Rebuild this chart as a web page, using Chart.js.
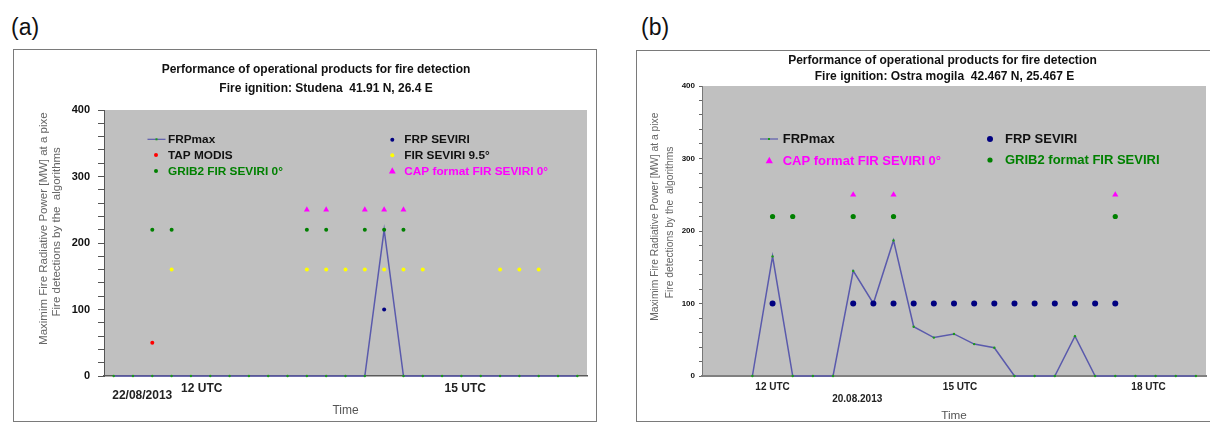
<!DOCTYPE html>
<html>
<head>
<meta charset="utf-8">
<script src="https://cdn.jsdelivr.net/npm/chart.js@4.4.0/dist/chart.umd.min.js"></script>
<style>
  body { margin: 0; width: 1210px; height: 423px; overflow: hidden; position: relative; background: #fff;
         font-family: "Liberation Sans", Arial, sans-serif; }
  .tag { position: absolute; top: 16px; font-size: 23px; line-height: 1; color: #111; }
  .frame { position: absolute; border: 1px solid #7a7a7a; box-sizing: border-box; }
  canvas { position: absolute; }
</style>
</head>
<body>
<div class="tag" style="left:11px">(a)</div>
<div class="tag" style="left:641px">(b)</div>
<div class="frame" style="left:13px;top:49px;width:584px;height:373px"></div>
<div class="frame" style="left:636px;top:50px;width:590px;height:372px"></div>
<canvas id="chartA" width="582" height="373" style="left:14px;top:50px"></canvas>
<canvas id="chartB" width="573" height="372" style="left:637px;top:51px"></canvas>

<script>
// ---- panel (a): Studena, 22/08/2013 (25 time slots) ----
const titleA = ['Performance of operational products for fire detection', 'Fire ignition: Studena  41.91 N, 26.4 E'];
const frpMaxA    = [0, 0, 0, 0, 0, 0, 0, 0, 0, 0, 0, 0, 0, 0, 220, 0, 0, 0, 0, 0, 0, 0, 0, 0, 0];
const frpSeviriA = [null, null, null, null, null, null, null, null, null, null, null, null, null, null, 100, null, null, null, null, null, null, null, null, null, null];
const tapModisA  = [null, null, 50, null, null, null, null, null, null, null, null, null, null, null, null, null, null, null, null, null, null, null, null, null, null];
const grib2A     = [null, null, 220, 220, null, null, null, null, null, null, 220, 220, null, 220, 220, 220, null, null, null, null, null, null, null, null, null];
const fir95A     = [null, null, null, 160, null, null, null, null, null, null, 160, 160, 160, 160, 160, 160, 160, null, null, null, 160, 160, 160, null, null];
const capA       = [null, null, null, null, null, null, null, null, null, null, 250, 250, null, 250, 250, 250, null, null, null, null, null, null, null, null, null];
const xTickPosA    = [1.48, 4.56, 18.2];
const xTickLabelsA = [['', '22/08/2013'], '12 UTC', '15 UTC'];

// ---- panel (b): Ostra mogila, 20.08.2013 ----
const titleB = ['Performance of operational products for fire detection', 'Fire ignition: Ostra mogila  42.467 N, 25.467 E'];
const frpMaxB    = [null, null, 0, 165, 0, 0, 0, 145, 100, 187, 68, 53, 58, 44, 39, 0, 0, 0, 55, 0, 0, 0, 0, 0, 0];
const frpSeviriB = [null, null, null, 100, null, null, null, 100, 100, 100, 100, 100, 100, 100, 100, 100, 100, 100, 100, 100, 100, null, null, null, null];
const grib2B     = [null, null, null, 220, 220, null, null, 220, null, 220, null, null, null, null, null, null, null, null, null, null, 220, null, null, null, null];
const capB       = [null, null, null, null, null, null, null, 250, null, 250, null, null, null, null, null, null, null, null, null, null, 250, null, null, null, null];
const xTickPosB    = [3, 7.2, 12.3, 21.65];
const xTickLabelsB = ['12 UTC', ['', '20.08.2013'], '15 UTC', '18 UTC'];

const yTitle = ['Maximim Fire Radiative Power [MW] at a pixe', 'Fire detections by the  algorithms'];
// the original axis title sits a little above the axis centre; leading blanks nudge it up
const nudge = (lines, n) => lines.map((t, i) => ' '.repeat(n[i]) + t);

Chart.defaults.font.family = '"Liberation Sans", Arial, sans-serif';
Chart.defaults.animation = false;

const pts = arr => arr.map((y, x) => ({ x, y })).filter(p => p.y !== null);

function dots(arr, label, color, style, r) {
  return { label, data: pts(arr), backgroundColor: color, borderWidth: 0,
           pointStyle: style, pointRadius: r, pointHoverRadius: r };
}
function frpLine(arr) {
  return { label: 'FRPmax', data: pts(arr), showLine: true, borderColor: '#5a5aac', borderWidth: 1.5,
           backgroundColor: '#1a9a1a', pointBackgroundColor: '#1a9a1a', pointRadius: 1.2,
           pointBorderWidth: 0, tension: 0, clip: false };
}

// gray plot background, titles and the in-plot legend
function decor(titles, legend) {
  return {
    id: 'decor',
    beforeDraw(chart) {
      const { ctx, chartArea: a } = chart;
      ctx.save();
      ctx.fillStyle = '#c0c0c0';
      ctx.fillRect(a.left, a.top, a.right - a.left, a.bottom - a.top);
      ctx.restore();
    },
    afterDraw(chart) {
      const ctx = chart.ctx;
      ctx.save();
      ctx.textBaseline = 'middle';
      ctx.textAlign = 'center';
      ctx.fillStyle = '#111';
      titles.forEach(t => { ctx.font = t.font; ctx.fillText(t.text, t.x, t.y); });
      ctx.textAlign = 'left';
      legend.items.forEach(it => {
        const ds = chart.data.datasets[it.ds];
        if (ds.showLine) {
          ctx.strokeStyle = ds.borderColor; ctx.lineWidth = 1.2;
          ctx.beginPath(); ctx.moveTo(it.x - 9, it.y); ctx.lineTo(it.x + 9, it.y); ctx.stroke();
          ctx.fillStyle = ds.pointBackgroundColor; ctx.fillRect(it.x - 1, it.y - 1, 2, 2);
        } else {
          const r = ds.pointRadius;
          ctx.fillStyle = ds.backgroundColor;
          ctx.beginPath();
          if (ds.pointStyle === 'triangle') {
            ctx.moveTo(it.x, it.y - r * 1.1); ctx.lineTo(it.x + r, it.y + r * 0.7); ctx.lineTo(it.x - r, it.y + r * 0.7);
            ctx.closePath();
          } else {
            ctx.arc(it.x, it.y, r, 0, Math.PI * 2);
          }
          ctx.fill();
        }
        ctx.font = legend.font;
        ctx.fillStyle = it.color;
        ctx.fillText(ds.label, it.tx, it.y + 0.5);
      });
      ctx.restore();
    }
  };
}

const BLACK = '#111', GREEN = '#008000', MAGENTA = '#ff00ff';

new Chart(document.getElementById('chartA'), {
  type: 'scatter',
  data: {
    datasets: [
      dots(capA, 'CAP format FIR SEVIRI 0°', '#ff00ff', 'triangle', 3.4),
      dots(frpSeviriA, 'FRP SEVIRI', '#000080', 'circle', 2),
      dots(tapModisA, 'TAP MODIS', '#ff0000', 'circle', 2),
      dots(grib2A, 'GRIB2 FIR SEVIRI 0°', '#008000', 'circle', 2),
      dots(fir95A, 'FIR SEVIRI 9.5°', '#ffff00', 'circle', 2),
      frpLine(frpMaxA)
    ]
  },
  options: {
    responsive: false,
    layout: { padding: { top: 60, right: 9, bottom: 0, left: 0 } },
    plugins: { legend: { display: false }, tooltip: { enabled: false } },
    scales: {
      x: {
        type: 'linear', min: -0.5, max: 24.5,
        afterBuildTicks: s => { s.ticks = xTickPosA.map(v => ({ value: v })); },
        afterFit: s => { s.height = 47; },
        grid: { display: false, drawTicks: false },
        border: { color: '#5a5a5a', width: 1.5 },
        ticks: {
          autoSkip: false, maxRotation: 0, padding: 5.8, color: '#222',
          callback: (v, i) => xTickLabelsA[i],
          font: c => ({ size: 12, weight: 'bold', lineHeight: c.index === 0 ? 0.76 : 1.2 })
        },
        title: { display: true, text: 'Time', color: '#555', font: { size: 12, lineHeight: 1.17 }, padding: { top: 0, bottom: 5 } }
      },
      y: {
        min: 0, max: 400,
        afterFit: s => { s.width = 90; },
        grid: { drawOnChartArea: false, tickLength: 6, color: '#555' },
        border: { color: '#555', width: 1 },
        ticks: {
          stepSize: 20, autoSkip: false, padding: 8, color: '#111',
          font: { size: 11, weight: 'bold' },
          callback: v => (v % 100 === 0 ? v : '')
        },
        title: { display: true, text: nudge(yTitle, [9, 7]), color: '#666', font: { size: 11.5, lineHeight: 1.13 }, padding: { top: 23.5, bottom: 0 } }
      }
    }
  },
  plugins: [decor(
    [
      { text: titleA[0], x: 302, y: 20, font: 'bold 12px "Liberation Sans", Arial, sans-serif' },
      { text: titleA[1], x: 312, y: 39, font: 'bold 12px "Liberation Sans", Arial, sans-serif' }
    ],
    {
      font: 'bold 11.8px "Liberation Sans", Arial, sans-serif',
      items: [
        { ds: 5, x: 142.5, y: 89.3, tx: 154, color: BLACK },
        { ds: 2, x: 142, y: 105, tx: 154, color: BLACK },
        { ds: 3, x: 142, y: 121, tx: 154, color: GREEN },
        { ds: 1, x: 378.3, y: 89.7, tx: 390.3, color: BLACK },
        { ds: 4, x: 378.3, y: 105.3, tx: 390.3, color: BLACK },
        { ds: 0, x: 378.3, y: 121, tx: 390.3, color: MAGENTA }
      ]
    }
  )]
});

new Chart(document.getElementById('chartB'), {
  type: 'scatter',
  data: {
    datasets: [
      dots(capB, 'CAP format FIR SEVIRI 0°', '#ff00ff', 'triangle', 3.6),
      dots(frpSeviriB, 'FRP SEVIRI', '#000080', 'circle', 3),
      dots(grib2B, 'GRIB2 format FIR SEVIRI', '#008000', 'circle', 2.6),
      frpLine(frpMaxB)
    ]
  },
  options: {
    responsive: false,
    layout: { padding: { top: 35, right: 0, bottom: 0, left: 0 } },
    plugins: { legend: { display: false }, tooltip: { enabled: false } },
    scales: {
      x: {
        type: 'linear', min: -0.5, max: 24.5,
        afterBuildTicks: s => { s.ticks = xTickPosB.map(v => ({ value: v })); },
        afterFit: s => { s.height = 47; },
        grid: { display: false, drawTicks: false },
        border: { color: '#808080', width: 2 },
        ticks: {
          autoSkip: false, maxRotation: 0, padding: 5.3, color: '#222',
          callback: (v, i) => xTickLabelsB[i],
          font: { size: 10, weight: 'bold', lineHeight: 1.2 }
        },
        title: { display: true, text: 'Time', color: '#555', font: { size: 11.7, lineHeight: 1.1 }, padding: { top: 0, bottom: 0.5 } }
      },
      y: {
        min: 0, max: 400,
        afterFit: s => { s.width = 65; },
        grid: { drawOnChartArea: false, tickLength: 3, color: '#666' },
        border: { color: '#777', width: 1 },
        ticks: {
          stepSize: 20, autoSkip: false, padding: 4, color: '#111',
          font: { size: 8, weight: 'bold' },
          callback: v => (v % 100 === 0 ? v : '')
        },
        title: { display: true, text: nudge(yTitle, [10, 6]), color: '#666', font: { size: 10.3, lineHeight: 1.456 }, padding: { top: 10.5, bottom: 0 } }
      }
    }
  },
  plugins: [decor(
    [
      { text: titleB[0], x: 305.5, y: 9.7, font: 'bold 12px "Liberation Sans", Arial, sans-serif' },
      { text: titleB[1], x: 307.5, y: 25.7, font: 'bold 12px "Liberation Sans", Arial, sans-serif' }
    ],
    {
      font: 'bold 13px "Liberation Sans", Arial, sans-serif',
      items: [
        { ds: 3, x: 132, y: 88, tx: 145.7, color: BLACK },
        { ds: 0, x: 132.3, y: 109.7, tx: 145.7, color: MAGENTA },
        { ds: 1, x: 353, y: 88, tx: 368, color: BLACK },
        { ds: 2, x: 353, y: 109, tx: 368, color: GREEN }
      ]
    }
  )]
});
</script>
</body>
</html>
